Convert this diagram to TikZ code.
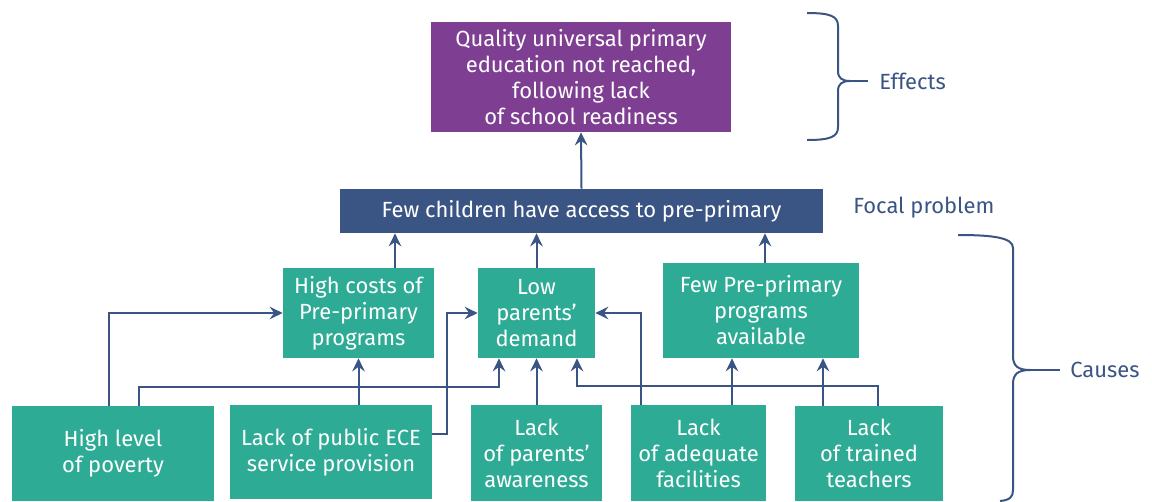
\documentclass[tikz,border=0pt]{standalone}
\usepackage{fontspec}
\setmainfont{Fira Sans}
\usetikzlibrary{arrows.meta}
\definecolor{causecol}{HTML}{2DAB95}
\definecolor{effectcol}{HTML}{7E3E92}
\definecolor{focalcol}{HTML}{3A5583}
\definecolor{linecol}{HTML}{3A5583}
\begin{document}
\begin{tikzpicture}
[ x=0.02cm, y=-0.02cm
, every node/.style={text=white, align=center, inner sep=0pt, font=\fontsize{12.5}{14.8}\selectfont}
, box/.style={fill=causecol}
, arr/.style={draw=linecol, line width=0.4mm, -{Stealth[length=2.6mm,width=2.5mm,inset=0.9mm]}}
, brace/.style={draw=linecol, line width=0.4mm}
, lbl/.style={text=linecol, anchor=west}
]
\useasboundingbox (0,0) rectangle (1152,501);

\node[fill=effectcol, minimum width=6cm, minimum height=2.2cm] (effect) at (581,77) {Quality universal primary\\education not reached,\\following lack\\of school readiness};
\node[fill=focalcol, minimum width=9.66cm, minimum height=0.88cm] (focal) at (581.5,211) {Few children have access to pre-primary};

\node[box, minimum width=3.02cm, minimum height=1.8cm] (costs)  at (358.5,313) {High costs of\\Pre-primary\\programs};
\node[box, minimum width=2.34cm, minimum height=1.8cm] (demand) at (536.5,313) {Low\\parents'\\demand};
\node[box, minimum width=3.92cm, minimum height=1.9cm] (avail)  at (761,310.5) {Few Pre-primary\\programs\\available};

\node[box, minimum width=4.04cm, minimum height=1.9cm]  (poverty) at (113,453.5) {High level\\of poverty};
\node[box, minimum width=4.04cm, minimum height=1.88cm] (ece)     at (331,452) {Lack of public ECE\\service provision};
\node[box, minimum width=2.62cm, minimum height=1.92cm] (aware)   at (536.5,453) {Lack\\of parents'\\awareness};
\node[box, minimum width=2.7cm, minimum height=1.92cm]  (facil)   at (698.5,453) {Lack\\of adequate\\facilities};
\node[box, minimum width=2.96cm, minimum height=1.9cm]  (teach)   at (869,453.5) {Lack\\of trained\\teachers};

\node[lbl] (effl)  at (879,81)  {Effects};
\node[lbl] (focl)  at (853,208) {Focal problem};
\node[lbl] (causl) at (1070,370) {Causes};

\draw[arr] (focal.north) -- (effect.south);
\draw[arr] (costs.north -| 395,0) -- (focal.south -| 395,0);
\draw[arr] (demand.north) -- (focal.south -| demand.north);
\draw[arr] (avail.north -| 765,0) -- (focal.south -| 765,0);

\draw[arr] (poverty.north -| 109,0) |- (costs.west);
\draw[arr] (poverty.north -| 139,0) |- (499,387) -- (demand.south -| 499,0);
\draw[arr] (ece.north -| costs.south) -- (costs.south);
\draw[arr] (ece.east |- 0,434) -| (447,313) -- (demand.west);
\draw[arr] (aware.north) -- (demand.south);
\draw[arr] (facil.north -| 641,0) |- (demand.east);
\draw[arr] (facil.north -| 732,0) -- (avail.south -| 732,0);
\draw[arr] (teach.north -| 823,0) -- (avail.south -| 823,0);
\draw[arr] (teach.north -| 878,0) |- (577,386) -- (demand.south -| 577,0);

\draw[brace] (807,13) .. controls (830,13) and (838,16) .. (838,26) -- (838,71)
  .. controls (838,78) and (842,81) .. (850,81)
  .. controls (842,81) and (838,84) .. (838,91) -- (838,127)
  .. controls (838,137) and (830,140) .. (807,140);
\draw[brace] (850,81) -- (868,81);

\draw[brace] (958,235) .. controls (995,235) and (1013,238) .. (1013,248) -- (1013,356)
  .. controls (1013,366) and (1018,370) .. (1030,370)
  .. controls (1018,370) and (1013,374) .. (1013,384) -- (1013,490)
  .. controls (1013,497) and (1010,500) .. (1000,501);
\draw[brace] (1030,370) -- (1060,370);

\end{tikzpicture}
\end{document}
